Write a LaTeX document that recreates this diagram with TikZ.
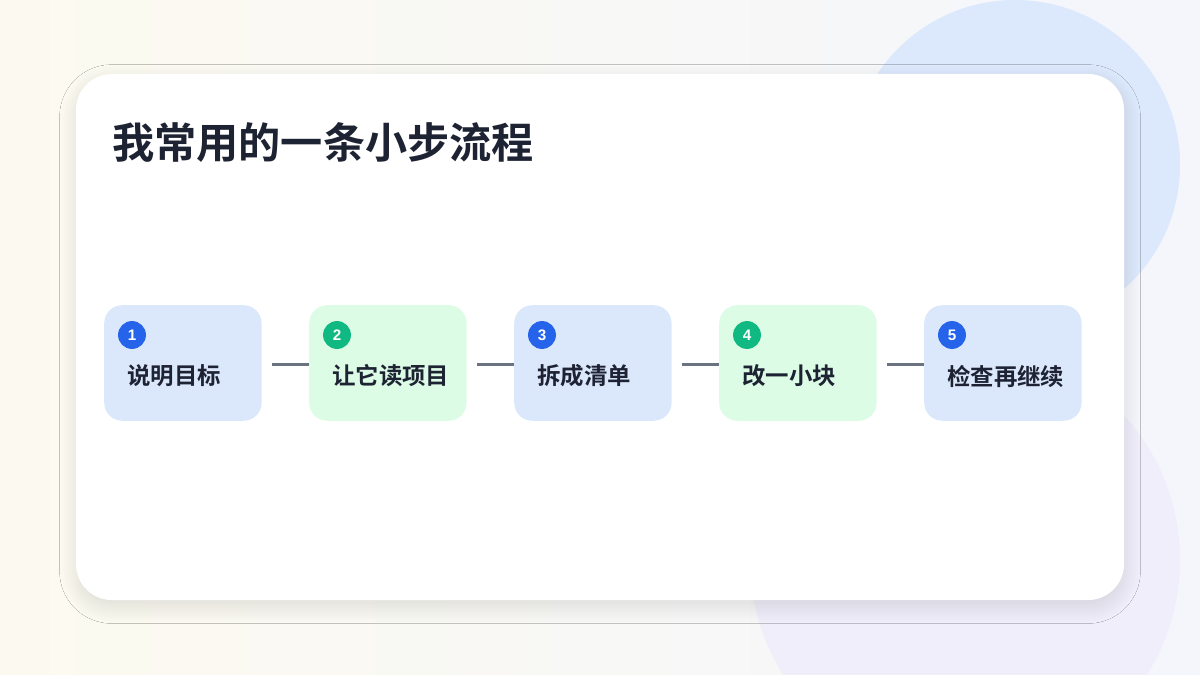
\documentclass[tikz,border=0pt]{standalone}
\usepackage{fontspec}
\newfontfamily\cjk{Noto Sans CJK SC}[BoldFont={Noto Sans CJK SC Bold}]
\newfontfamily\numf{Liberation Sans}
\usetikzlibrary{shadows.blur}
\definecolor{ink}{HTML}{1E2333}
\definecolor{bbox}{HTML}{DBE8FC}
\definecolor{gbox}{HTML}{DCFCE6}
\definecolor{bdot}{HTML}{2563EB}
\definecolor{gdot}{HTML}{10B981}
\definecolor{conn}{HTML}{6B7280}
\begin{document}
\begin{tikzpicture}[x=0.03cm,y=-0.03cm,
 stepbox/.style={rounded corners=18*0.85pt,minimum width=158*0.85pt,minimum height=116*0.85pt,inner sep=0pt,anchor=north west},
 dot/.style={circle,minimum size=28*0.85pt,inner sep=0pt,text=white,font=\numf\bfseries\fontsize{13}{13}\selectfont},
 lab/.style={anchor=west,text=ink,font=\cjk\bfseries\fontsize{20}{20}\selectfont,inner sep=0pt},
 link/.style={draw=conn,line width=3*0.85pt}]
\useasboundingbox (0,0) rectangle (1200,675);
\shade[left color={rgb,255:red,252;green,250;blue,240},right color={rgb,255:red,244;green,246;blue,252}] (0,0) rectangle (1200,675);
\fill[color={rgb,255:red,220;green,232;blue,251}] (1015,165) circle (165);
\fill[color={rgb,255:red,239;green,238;blue,250}] (965,560) circle (215);
\fill[white,rounded corners=36*0.85pt,blur shadow={shadow blur steps=20,shadow blur radius=14pt,shadow xshift=0pt,shadow yshift=-6pt,shadow opacity=12}] (76,74) rectangle (1124,600);
\node[anchor=west,text=ink,font=\cjk\bfseries\fontsize{36}{36}\selectfont,inner sep=0pt] (title) at (112,143) {我常用的一条小步流程};
\foreach \i/\x/\c/\d/\t in {1/104/bbox/bdot/说明目标,2/309/gbox/gdot/让它读项目,3/514/bbox/bdot/拆成清单,4/719/gbox/gdot/改一小块,5/924/bbox/bdot/检查再继续}{
 \node[stepbox,fill=\c] (s\i) at (\x,305) {};
 \node[dot,fill=\d] (n\i) at (\x+28,335) {\i};
 \node[lab] (l\i) at (\x+23,376) {\t};
}
\foreach \a/\b in {1/2,2/3,3/4,4/5}{
 \draw[link] ([xshift=10*0.85pt,yshift=-1.5pt]s\a.east) -- ([yshift=-1.5pt]s\b.west);
}
\end{tikzpicture}
\end{document}
